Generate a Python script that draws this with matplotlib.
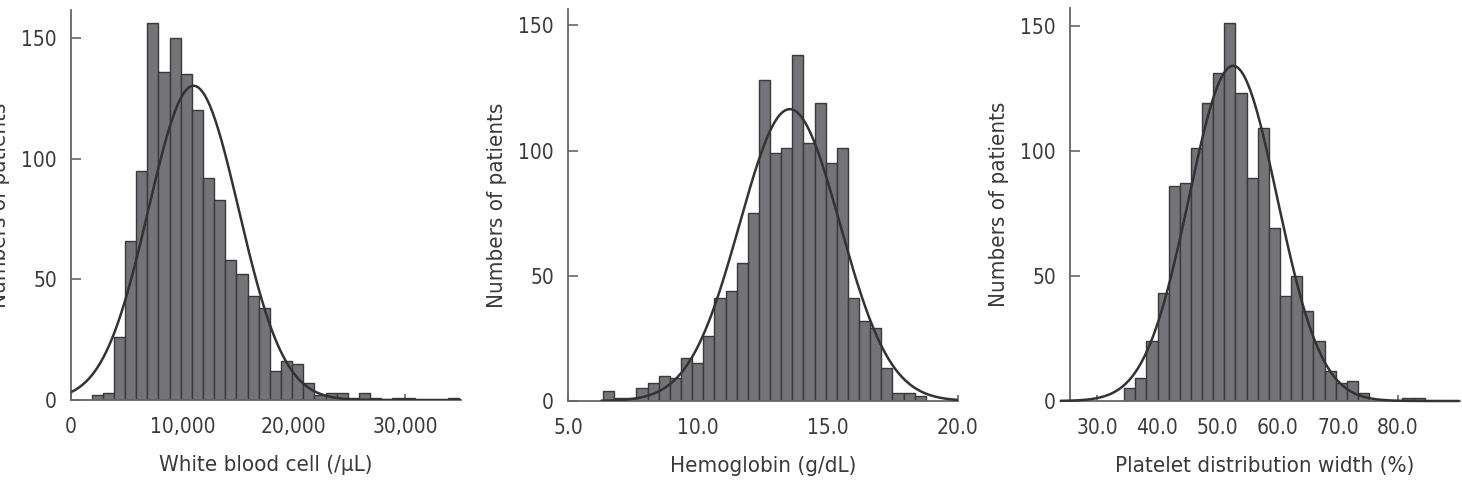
import numpy as np
import matplotlib
matplotlib.use("Agg")
import matplotlib.pyplot as plt

# histogram data (left edge of first bin, bin width, counts)
wbc_start = 1850
wbc_width = 1000
wbc_counts = [2, 3, 26, 66, 95, 156, 136, 150, 135, 120, 92, 83, 58, 52, 43, 38,
              12, 16, 15, 7, 2, 3, 3, 1, 3, 1, 0, 1, 1, 0, 0, 0, 1]
wbc_mean, wbc_sd = 11000, 4050

hb_start = 6.35
hb_width = 0.428
hb_counts = [4, 1, 1, 5, 7, 10, 9, 17, 15, 26, 41, 44, 55, 75, 128, 99, 101, 138,
             103, 119, 95, 101, 41, 32, 29, 13, 3, 3, 2]
hb_mean, hb_sd = 13.53, 1.93

pdw_start = 34.49
pdw_width = 1.85
pdw_counts = [5, 9, 24, 43, 86, 87, 101, 119, 131, 151, 123, 89, 109, 69, 42, 50,
              36, 24, 12, 7, 8, 3, 0, 0, 0, 1, 1]
pdw_mean, pdw_sd = 52.6, 7.33

wbc_ticks = [0, 10000, 20000, 30000]
wbc_ticklabels = ["0", "10,000", "20,000", "30,000"]
hb_ticks = [5.0, 10.0, 15.0, 20.0]
hb_ticklabels = ["5.0", "10.0", "15.0", "20.0"]
pdw_ticks = [30, 40, 50, 60, 70, 80]
pdw_ticklabels = ["30.0", "40.0", "50.0", "60.0", "70.0", "80.0"]
y_ticks = [0, 50, 100, 150]

plt.rcParams['font.family'] = ['DejaVu Sans']
plt.rcParams['font.stretch'] = 'condensed'

BAR = '#737378'
EDGE = '#3a3a3a'
LINE = '#333333'
TEXT = '#3a3a3a'
SPINE = '#666666'

fig = plt.figure(figsize=(14.62, 4.8), dpi=100)
W, H = 1462, 480


def add_axes(left, right, top, bottom):
    return fig.add_axes([left / W, 1 - bottom / H, (right - left) / W, (bottom - top) / H])


def panel(ax, start, width, counts, mean, sd, xlim, ylim, curve_range,
          ticks, ticklabels, xlabel, clip=True):
    counts = np.array(counts)
    edges = start + width * np.arange(len(counts))
    ax.bar(edges, counts, width=width, align='edge', color=BAR,
           edgecolor=EDGE, linewidth=1.0, zorder=2)
    n = counts.sum()
    xs = np.linspace(curve_range[0], curve_range[1], 400)
    ys = n * width / (sd * np.sqrt(2 * np.pi)) * np.exp(-0.5 * ((xs - mean) / sd) ** 2)
    ax.plot(xs, ys, color=LINE, linewidth=1.8, zorder=3, clip_on=clip)
    ax.set_xlim(*xlim)
    ax.set_ylim(*ylim)
    ax.set_xticks(ticks)
    ax.set_xticklabels(ticklabels)
    ax.set_yticks(y_ticks)
    for s in ['top', 'right']:
        ax.spines[s].set_visible(False)
    for s in ['left', 'bottom']:
        ax.spines[s].set_color(SPINE)
        ax.spines[s].set_linewidth(1.3)
    ax.tick_params(axis='y', direction='in', length=7, width=1.2, color=SPINE,
                   pad=10, labelsize=15, labelcolor=TEXT)
    ax.tick_params(axis='x', direction='in', length=4, width=1.2, color=SPINE,
                   pad=12, labelsize=15, labelcolor=TEXT)
    ax.set_xlabel(xlabel, fontsize=16, color=TEXT, labelpad=13)
    ax.set_ylabel('Numbers of patients', fontsize=16, color=TEXT, labelpad=8)


ax1 = add_axes(71, 461, 10, 400)
panel(ax1, wbc_start, wbc_width, wbc_counts, wbc_mean, wbc_sd,
      (0, 35000), (0, 161.5), (0, 35000), wbc_ticks, wbc_ticklabels,
      'White blood cell (/μL)')

ax2 = add_axes(568, 958, 9, 401)
panel(ax2, hb_start, hb_width, hb_counts, hb_mean, hb_sd,
      (5, 20), (0, 156.5), (6.3, 20.0), hb_ticks, hb_ticklabels,
      'Hemoglobin (g/dL)')

ax3 = add_axes(1070, 1460, 8, 401)
panel(ax3, pdw_start, pdw_width, pdw_counts, pdw_mean, pdw_sd,
      (25.5, 90.3), (0, 157), (24.0, 90.0), pdw_ticks, pdw_ticklabels,
      'Platelet distribution width (%)', clip=False)

fig.savefig('out.png', dpi=100)
